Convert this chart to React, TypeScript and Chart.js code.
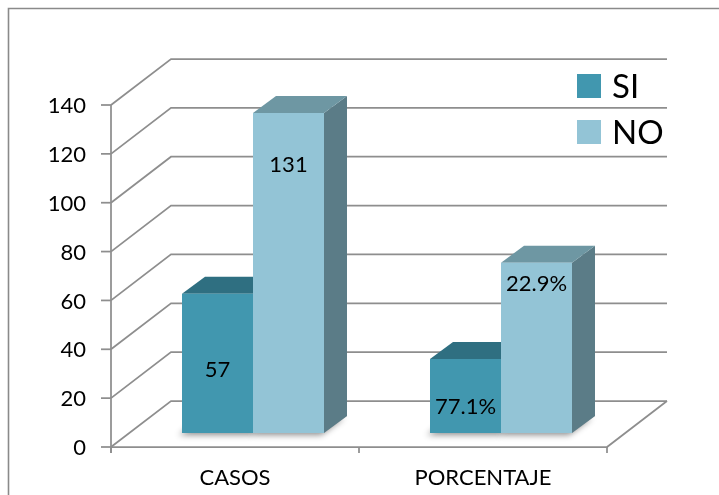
import React, { useEffect, useRef } from "react";
import { Chart, registerables } from "chart.js";

Chart.register(...registerables);

const categories = ["CASOS", "PORCENTAJE"];
const siValues = [57, 30.3];
const noValues = [131, 69.7];
const siLabels = ["57", "77.1%"];
const noLabels = ["131", "22.9%"];
const siLabelAt = [25.8, 10.6];
const noLabelAt = [109.7, 61];
const yTicks = [0, 20, 40, 60, 80, 100, 120, 140];
const seriesNames = ["SI", "NO"];

const SI_FRONT = "#4197AF";
const SI_TOP = "#2F6F81";
const SI_SIDE = "#2B6473";
const NO_FRONT = "#93C4D6";
const NO_TOP = "#6E97A3";
const NO_SIDE = "#5B7C87";
const GRID = "#8e8e8e";
const FONT = "Lato, 'Open Sans', sans-serif";

const FRONT = { dx: -18, dy: 14 };
const BACK = { dx: 42, dy: -32 };
const DEPTH = { dx: 23, dy: -17 };

const faces = [
  { top: SI_TOP, side: SI_SIDE },
  { top: NO_TOP, side: NO_SIDE },
];

const threeD = {
  id: "threeD",
  beforeDraw(chart: any) {
    const { ctx, width, height } = chart;
    ctx.save();
    ctx.fillStyle = "#ffffff";
    ctx.fillRect(0, 0, width, height);
    ctx.strokeStyle = "#8a8a8a";
    ctx.lineWidth = 1.6;
    ctx.beginPath();
    ctx.moveTo(8.5, height);
    ctx.lineTo(8.5, 8.5);
    ctx.lineTo(width, 8.5);
    ctx.stroke();
    ctx.restore();
  },
  beforeDatasetsDraw(chart: any) {
    const { ctx, chartArea, scales } = chart;
    const { left, right } = chartArea;
    const x = scales.x;
    const y = scales.y;
    ctx.save();
    ctx.strokeStyle = GRID;
    ctx.lineWidth = 1.75;
    ctx.fillStyle = "#000";
    ctx.font = `22px ${FONT}`;
    ctx.textAlign = "right";
    ctx.textBaseline = "middle";
    for (const v of yTicks) {
      const yy = y.getPixelForValue(v);
      ctx.beginPath();
      ctx.moveTo(left + FRONT.dx, yy + FRONT.dy);
      ctx.lineTo(left + BACK.dx, yy + BACK.dy);
      ctx.lineTo(right + BACK.dx, yy + BACK.dy);
      ctx.stroke();
      ctx.beginPath();
      ctx.moveTo(left + FRONT.dx - 10, yy + FRONT.dy);
      ctx.lineTo(left + FRONT.dx, yy + FRONT.dy);
      ctx.stroke();
      ctx.fillText(String(v), left + FRONT.dx - 25, yy + FRONT.dy + 1);
    }
    const y0 = y.getPixelForValue(0);
    const yTop = y.getPixelForValue(yTicks[yTicks.length - 1]);
    ctx.beginPath();
    ctx.moveTo(left + FRONT.dx, y0 + FRONT.dy);
    ctx.lineTo(right + FRONT.dx, y0 + FRONT.dy);
    ctx.lineTo(right + BACK.dx, y0 + BACK.dy);
    ctx.stroke();
    ctx.beginPath();
    ctx.moveTo(left + FRONT.dx, yTop + FRONT.dy);
    ctx.lineTo(left + FRONT.dx, y0 + FRONT.dy + 6);
    ctx.stroke();
    const n = categories.length;
    for (let i = 0; i <= n; i++) {
      const xx = left + (i * (right - left)) / n + FRONT.dx;
      ctx.beginPath();
      ctx.moveTo(xx, y0 + FRONT.dy);
      ctx.lineTo(xx, y0 + FRONT.dy + 6);
      ctx.stroke();
    }
    ctx.textAlign = "center";
    for (let i = 0; i < n; i++) {
      ctx.fillText(categories[i], x.getPixelForValue(i) + FRONT.dx, y0 + FRONT.dy + 31);
    }
    // bars: shadows, tops, sides
    chart.data.datasets.forEach((_ds: any, di: number) => {
      const meta = chart.getDatasetMeta(di);
      meta.data.forEach((el: any) => {
        const p = el.getProps(["x", "y", "base", "width"], true);
        const x1 = p.x - p.width / 2;
        const x2 = p.x + p.width / 2;
        ctx.save();
        ctx.shadowColor = "rgba(0,0,0,0.45)";
        ctx.shadowBlur = 6;
        ctx.shadowOffsetX = -3;
        ctx.shadowOffsetY = 2;
        ctx.fillStyle = "#bbbbbb";
        ctx.beginPath();
        ctx.moveTo(x1, p.base);
        ctx.lineTo(x2, p.base);
        ctx.lineTo(x2 + DEPTH.dx, p.base + DEPTH.dy);
        ctx.lineTo(x1 + DEPTH.dx, p.base + DEPTH.dy);
        ctx.closePath();
        ctx.fill();
        ctx.restore();
        ctx.fillStyle = faces[di].side;
        ctx.beginPath();
        ctx.moveTo(x2, p.y);
        ctx.lineTo(x2 + DEPTH.dx, p.y + DEPTH.dy);
        ctx.lineTo(x2 + DEPTH.dx, p.base + DEPTH.dy);
        ctx.lineTo(x2, p.base);
        ctx.closePath();
        ctx.fill();
        ctx.fillStyle = faces[di].top;
        ctx.beginPath();
        ctx.moveTo(x1, p.y);
        ctx.lineTo(x2, p.y);
        ctx.lineTo(x2 + DEPTH.dx, p.y + DEPTH.dy);
        ctx.lineTo(x1 + DEPTH.dx, p.y + DEPTH.dy);
        ctx.closePath();
        ctx.fill();
      });
    });
    ctx.restore();
  },
  afterDatasetsDraw(chart: any) {
    const { ctx, chartArea, scales } = chart;
    const y = scales.y;
    ctx.save();
    ctx.fillStyle = "#000";
    ctx.font = `22px ${FONT}`;
    ctx.textAlign = "center";
    ctx.textBaseline = "middle";
    const labelSets = [siLabels, noLabels];
    const anchorSets = [siLabelAt, noLabelAt];
    chart.data.datasets.forEach((_ds: any, di: number) => {
      const meta = chart.getDatasetMeta(di);
      meta.data.forEach((el: any, i: number) => {
        const p = el.getProps(["x"], true);
        ctx.fillText(labelSets[di][i], p.x, y.getPixelForValue(anchorSets[di][i]));
      });
    });
    // legend
    const lx = chartArea.right - 48;
    const ly = chartArea.top - 17;
    ctx.textAlign = "left";
    ctx.font = `33px ${FONT}`;
    chart.data.datasets.forEach((ds: any, di: number) => {
      const top = ly + di * 46;
      ctx.fillStyle = ds.backgroundColor;
      ctx.fillRect(lx, top, 24, 24);
      ctx.fillStyle = "#000";
      ctx.fillText(ds.label, lx + 35, top + 13);
    });
    ctx.restore();
  },
};

export default function App() {
  const ref = useRef<HTMLCanvasElement | null>(null);
  useEffect(() => {
    if (!ref.current) return;
    const chart = new Chart(ref.current, {
      type: "bar",
      data: {
        labels: categories,
        datasets: [
          { label: seriesNames[0], data: siValues, backgroundColor: SI_FRONT, borderWidth: 0 },
          { label: seriesNames[1], data: noValues, backgroundColor: NO_FRONT, borderWidth: 0 },
        ],
      },
      options: {
        responsive: false,
        animation: false,
        devicePixelRatio: 1,
        layout: { padding: { left: 129, right: 94, top: 91, bottom: 62 } },
        datasets: { bar: { categoryPercentage: 0.5726, barPercentage: 1 } },
        scales: {
          x: { display: false, offset: true },
          y: { display: false, min: 0, max: 140 },
        },
        plugins: { legend: { display: false }, tooltip: { enabled: false } },
      },
      plugins: [threeD],
    } as any);
    return () => chart.destroy();
  }, []);
  return (
    <div style={{ position: "fixed", left: 0, top: 0, width: 719, height: 495 }}>
      <canvas ref={ref} width={719} height={495} style={{ display: "block" }} />
    </div>
  );
}
